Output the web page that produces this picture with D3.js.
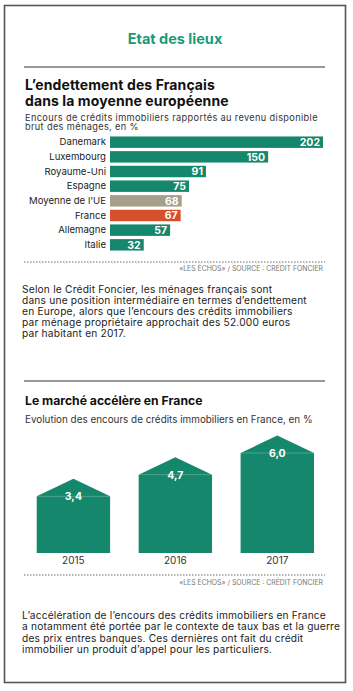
<!DOCTYPE html>
<html><head><meta charset="utf-8">
<script src="https://cdn.jsdelivr.net/npm/d3@7/dist/d3.min.js"></script>
<style>
html,body{margin:0;padding:0;background:#fff;}
svg{display:block;font-family:Inter,"Noto Sans",sans-serif;}
</style></head>
<body><svg id="c" width="353" height="691"></svg>
<script>
const countries = ["Danemark","Luxembourg","Royaume-Uni","Espagne","Moyenne de l'UE","France","Allemagne","Italie"];
const debtValues = [202,150,91,75,68,67,57,32];
const debtLabels = ["202","150","91","75","68","67","57","32"];
const years = ["2015","2016","2017"];
const growthValues = [3.4,4.7,6.0];
const growthLabels = ["3,4","4,7","6,0"];

const GREEN="#14876c", GRAY="#a69f8b", ORANGE="#d6512a";
const svg=d3.select("#c");

// frame
svg.append("rect").attr("x",4.5).attr("y",5.5).attr("width",341).attr("height",677)
  .attr("fill","#fff").attr("stroke","#555").attr("stroke-width",1.6);

svg.append("text").attr("x",175).attr("y",44).attr("text-anchor","middle")
  .attr("font-size",14.5).attr("font-weight",700).attr("fill","#1a9a78").text("Etat des lieux");

function rule(y){svg.append("line").attr("x1",24).attr("x2",325).attr("y1",y).attr("y2",y).attr("stroke","#333").attr("stroke-width",1.2);}
function dotted(y){svg.append("line").attr("x1",24).attr("x2",325).attr("y1",y).attr("y2",y).attr("stroke","#444").attr("stroke-width",0.8).attr("stroke-dasharray","1.5,1.5");}
function source(y){svg.append("text").attr("x",323).attr("y",y).attr("text-anchor","end").attr("font-size",6.9).attr("fill","#777").text("«LES ÉCHOS» / SOURCE : CRÉDIT FONCIER");}
function lines(arr,x,y0,dy,size,weight,fill,ls){
  arr.forEach((t,i)=>svg.append("text").attr("x",x).attr("y",y0+i*dy).attr("font-size",size).attr("font-weight",weight)
    .attr("letter-spacing",ls||0).attr("fill",fill).text(t));
}

rule(67);
lines(["L’endettement des Français","dans la moyenne européenne"],25,90.3,15.7,14,700,"#111",0.1);
lines(["Encours de crédits immobiliers rapportés au revenu disponible","brut des ménages, en %"],25,120.5,9.8,9.2,400,"#333",0.36);

// bar chart
const x=d3.scaleLinear().domain([0,202]).range([110,323]);
const y=d3.scaleBand().domain(countries).range([135,252]).paddingInner(0.22).paddingOuter(0.1);
const colorOf=c=>c==="France"?ORANGE:(c==="Moyenne de l'UE"?GRAY:GREEN);
const g=svg.append("g");
g.selectAll("rect").data(countries).join("rect")
  .attr("x",x(0)).attr("y",d=>y(d)).attr("width",(d,i)=>x(debtValues[i])-x(0)).attr("height",y.bandwidth())
  .attr("fill",colorOf);
g.selectAll("text.v").data(countries).join("text").attr("class","v")
  .attr("x",(d,i)=>x(debtValues[i])-3).attr("y",d=>y(d)+y.bandwidth()/2+3.8)
  .attr("text-anchor","end").attr("font-size",10.5).attr("font-weight",700).attr("fill","#fff")
  .text((d,i)=>debtLabels[i]);
const ax=svg.append("g").attr("transform","translate(106,0)").call(d3.axisLeft(y).tickSize(0).tickPadding(0));
ax.select(".domain").remove();
ax.selectAll("text").attr("font-size",9.6).attr("fill","#222").attr("font-family","Inter,'Noto Sans',sans-serif");

dotted(262);
source(271);

lines(["Selon le Crédit Foncier, les ménages français sont",
"dans une position intermédiaire en termes d’endettement",
"en Europe, alors que l’encours des crédits immobiliers",
"par ménage propriétaire approchait des 52.000 euros",
"par habitant en 2017."],22,292.5,11,10.2,400,"#222",0.2);

rule(381);
lines(["Le marché accélère en France"],25,405,0,12.2,700,"#111");
lines(["Evolution des encours de crédits immobiliers en France, en %"],25,423,0,9.9,400,"#333");

// house chart
const xb=d3.scaleBand().domain(years).range([36.7,314]).paddingInner(0.28).paddingOuter(0);
const yb=d3.scaleLinear().domain([0,6]).range([553,453]);
const roof=17.5;
const hg=svg.append("g");
hg.selectAll("path").data(years).join("path")
  .attr("d",(d,i)=>{const x0=xb(d),x1=x0+xb.bandwidth(),yt=yb(growthValues[i]);
    return `M${x0},${yb(0)}L${x0},${yt}L${(x0+x1)/2},${yt-roof}L${x1},${yt}L${x1},${yb(0)}Z`;})
  .attr("fill",GREEN);
hg.selectAll("line").data(years).join("line")
  .attr("x1",d=>xb(d)).attr("x2",d=>xb(d)+xb.bandwidth())
  .attr("y1",(d,i)=>yb(growthValues[i])).attr("y2",(d,i)=>yb(growthValues[i]))
  .attr("stroke","#fff").attr("stroke-opacity",0.3).attr("stroke-width",0.8);
hg.selectAll("text.v").data(years).join("text").attr("class","v")
  .attr("x",d=>xb(d)+xb.bandwidth()/2).attr("y",(d,i)=>yb(growthValues[i])+4)
  .attr("text-anchor","middle").attr("font-size",10.5).attr("font-weight",700).attr("fill","#fff")
  .text((d,i)=>growthLabels[i]);
const bx=svg.append("g").attr("transform","translate(0,553)").call(d3.axisBottom(xb).tickSize(0).tickPadding(4));
bx.select(".domain").remove();
bx.selectAll("text").attr("font-size",10).attr("fill","#333").attr("font-family","Inter,'Noto Sans',sans-serif");

dotted(575);
source(585);

lines(["L’accélération de l’encours des crédits immobiliers en France",
"a notamment été portée par le contexte de taux bas et la guerre",
"des prix entres banques. Ces dernières ont fait du crédit",
"immobilier un produit d’appel pour les particuliers."],22,619,11.4,10.2,400,"#222",0.18);
</script></body></html>
